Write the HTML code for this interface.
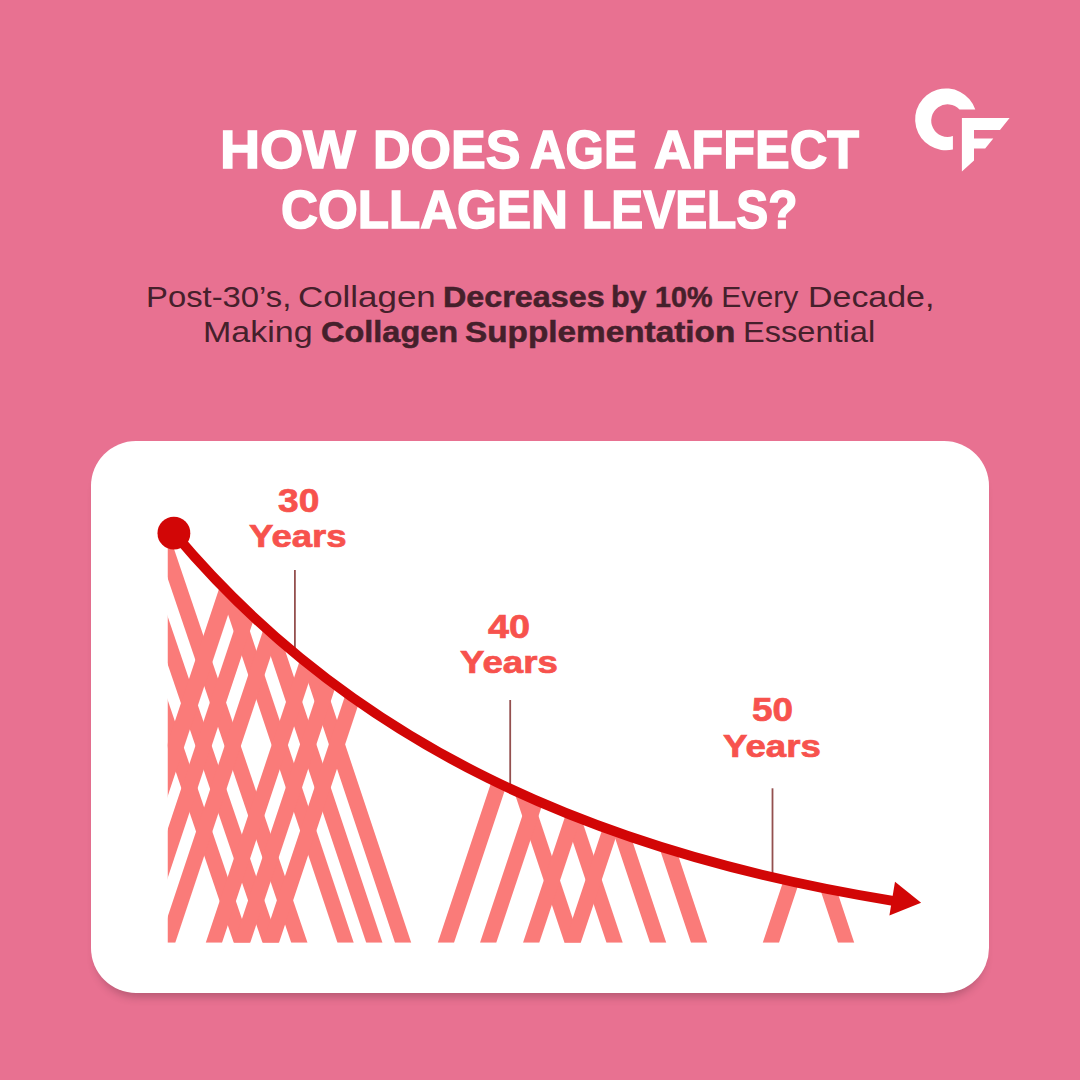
<!DOCTYPE html>
<html lang="en"><head><meta charset="utf-8"><title>How does age affect collagen levels?</title>
<style>
html,body{margin:0;padding:0}
body{width:1080px;height:1080px;background:#e87191;position:relative;overflow:hidden;font-family:"Liberation Sans",sans-serif}
.x{position:absolute;line-height:1;white-space:nowrap;transform-origin:0 0}
.card{position:absolute;left:91px;top:440.5px;width:898px;height:552.5px;background:#fff;border-radius:45px;box-shadow:0 9px 8px -5px rgba(70,35,50,0.30)}
svg{position:absolute;left:0;top:0}
</style></head><body>
<div class="card"></div>
<svg width="1080" height="1080" viewBox="0 0 1080 1080">
<defs><clipPath id="cp"><path d="M174 533 C351.01 744.15 593.67 852.38 893 900.8 L892.00 942.75 L167.75 942.75 L167.75 533.00 Z"/></clipPath></defs>
<!-- logo -->
<g fill="#fff">
<path d="M975.3 109.5 A30.9 30.9 0 1 0 952.9 149.5 L952.9 136 A16.3 16.3 0 1 1 959.5 109.5 Z"/>
<path d="M961.9 118.1 L1009.6 118.1 L1000 130 L974 130 L974 138.4 L993.3 138.4 L985.2 148.5 L974 148.5 L974 160.4 L961.9 171.5 Z"/>
</g>
<g clip-path="url(#cp)" fill="#fa7b79"><path d="M233.75 942.75 L250.00 942.75 L99.91 500.00 L83.66 500.00 Z"/><path d="M262.50 942.75 L278.75 942.75 L127.99 500.00 L111.74 500.00 Z"/><path d="M291.25 942.75 L307.50 942.75 L157.41 500.00 L141.16 500.00 Z"/><path d="M337.50 942.75 L353.75 942.75 L206.18 500.00 L189.93 500.00 Z"/><path d="M366.25 942.75 L382.50 942.75 L234.93 500.00 L218.68 500.00 Z"/><path d="M395.00 942.75 L411.25 942.75 L263.68 500.00 L247.43 500.00 Z"/><path d="M564.50 942.75 L580.75 942.75 L433.18 500.00 L416.93 500.00 Z"/><path d="M606.50 942.75 L622.75 942.75 L475.18 500.00 L458.93 500.00 Z"/><path d="M650.00 942.75 L666.25 942.75 L518.68 500.00 L502.43 500.00 Z"/><path d="M691.00 942.75 L707.25 942.75 L559.68 500.00 L543.43 500.00 Z"/><path d="M838.00 942.75 L854.25 942.75 L706.68 500.00 L690.43 500.00 Z"/><path d="M101.10 942.75 L118.80 942.75 L266.37 500.00 L248.67 500.00 Z"/><path d="M129.80 942.75 L146.05 942.75 L293.62 500.00 L277.37 500.00 Z"/><path d="M159.00 942.75 L175.25 942.75 L322.82 500.00 L306.57 500.00 Z"/><path d="M205.75 942.75 L222.00 942.75 L369.57 500.00 L353.32 500.00 Z"/><path d="M234.00 942.75 L250.25 942.75 L397.82 500.00 L381.57 500.00 Z"/><path d="M262.75 942.75 L279.00 942.75 L426.57 500.00 L410.32 500.00 Z"/><path d="M437.75 942.75 L454.00 942.75 L601.57 500.00 L585.32 500.00 Z"/><path d="M480.00 942.75 L496.25 942.75 L643.82 500.00 L627.57 500.00 Z"/><path d="M523.00 942.75 L539.25 942.75 L686.82 500.00 L670.57 500.00 Z"/><path d="M564.50 942.75 L580.75 942.75 L728.32 500.00 L712.07 500.00 Z"/><path d="M762.75 942.75 L779.00 942.75 L926.57 500.00 L910.32 500.00 Z"/></g>
<g stroke="#94504f" stroke-width="1.8">
<line x1="294.9" y1="570" x2="294.9" y2="648"/>
<line x1="510.2" y1="700" x2="510.2" y2="785"/>
<line x1="772.5" y1="788.3" x2="772.5" y2="875"/>
</g>
<path d="M174 533 C351.01 744.15 593.67 852.38 893 900.8" fill="none" stroke="#d20606" stroke-width="9.8" stroke-linecap="butt"/>
<circle cx="173.9" cy="533.2" r="16.4" fill="#d20606"/>
<path d="M895 881.7 L921.1 902.8 L889.4 915.6 Z" fill="#d20606"/>
</svg>
<span class="x" style="left:220.15px;top:123.75px;font-size:52.9px;font-weight:bold;color:#fff;-webkit-text-stroke:1.5px #fff;transform:scaleX(1.0504)">HOW</span>
<span class="x" style="left:372.75px;top:123.75px;font-size:52.9px;font-weight:bold;color:#fff;-webkit-text-stroke:1.5px #fff;transform:scaleX(0.9834)">DOES</span>
<span class="x" style="left:529.77px;top:123.75px;font-size:52.9px;font-weight:bold;color:#fff;-webkit-text-stroke:1.5px #fff;transform:scaleX(0.9312)">AGE</span>
<span class="x" style="left:654.02px;top:123.75px;font-size:52.9px;font-weight:bold;color:#fff;-webkit-text-stroke:1.5px #fff;transform:scaleX(0.9822)">AFFECT</span>
<span class="x" style="left:280.73px;top:184.25px;font-size:52.9px;font-weight:bold;color:#fff;-webkit-text-stroke:1.5px #fff;transform:scaleX(0.9669)">COLLAGEN</span>
<span class="x" style="left:582.28px;top:184.25px;font-size:52.9px;font-weight:bold;color:#fff;-webkit-text-stroke:1.5px #fff;transform:scaleX(0.9056)">LEVELS?</span>
<span class="x" style="left:146.12px;top:281.7px;font-size:30.1px;font-weight:normal;color:#45202b;transform:scaleX(1.0907)">Post-30’s,</span>
<span class="x" style="left:297.68px;top:281.7px;font-size:30.1px;font-weight:normal;color:#45202b;transform:scaleX(1.1591)">Collagen</span>
<span class="x" style="left:442.82px;top:281.7px;font-size:29.6px;font-weight:bold;color:#45202b;-webkit-text-stroke:0.5px #45202b;transform:scaleX(1.0917)">Decreases</span>
<span class="x" style="left:610.64px;top:281.7px;font-size:29.6px;font-weight:bold;color:#45202b;-webkit-text-stroke:0.5px #45202b;transform:scaleX(1.0303)">by</span>
<span class="x" style="left:655.36px;top:281.7px;font-size:29.6px;font-weight:bold;color:#45202b;-webkit-text-stroke:0.5px #45202b;transform:scaleX(0.9719)">10%</span>
<span class="x" style="left:721.3px;top:281.7px;font-size:30.1px;font-weight:normal;color:#45202b;transform:scaleX(1.0)">Every</span>
<span class="x" style="left:807.74px;top:281.7px;font-size:30.1px;font-weight:normal;color:#45202b;transform:scaleX(1.128)">Decade,</span>
<span class="x" style="left:202.74px;top:316.9px;font-size:30.1px;font-weight:normal;color:#45202b;transform:scaleX(1.129)">Making</span>
<span class="x" style="left:320.6px;top:316.9px;font-size:29.6px;font-weight:bold;color:#45202b;-webkit-text-stroke:0.5px #45202b;transform:scaleX(1.0976)">Collagen</span>
<span class="x" style="left:464.87px;top:316.9px;font-size:29.6px;font-weight:bold;color:#45202b;-webkit-text-stroke:0.5px #45202b;transform:scaleX(1.1261)">Supplementation</span>
<span class="x" style="left:742.84px;top:316.9px;font-size:30.1px;font-weight:normal;color:#45202b;transform:scaleX(1.0822)">Essential</span>
<span class="x" style="left:278.3px;top:483.5px;font-size:33.7px;font-weight:bold;color:#f7524d;-webkit-text-stroke:0.7px #f7524d;transform:scaleX(1.1027)">30</span>
<span class="x" style="left:249.4px;top:519.9px;font-size:32.2px;font-weight:bold;color:#f7524d;-webkit-text-stroke:0.7px #f7524d;transform:scaleX(1.1365)">Years</span>
<span class="x" style="left:487.9px;top:609.5px;font-size:33.7px;font-weight:bold;color:#f7524d;-webkit-text-stroke:0.7px #f7524d;transform:scaleX(1.1216)">40</span>
<span class="x" style="left:459.9px;top:645.9px;font-size:32.2px;font-weight:bold;color:#f7524d;-webkit-text-stroke:0.7px #f7524d;transform:scaleX(1.1388)">Years</span>
<span class="x" style="left:751.51px;top:692.5px;font-size:33.7px;font-weight:bold;color:#f7524d;-webkit-text-stroke:0.7px #f7524d;transform:scaleX(1.0944)">50</span>
<span class="x" style="left:723.3px;top:729.6px;font-size:32.2px;font-weight:bold;color:#f7524d;-webkit-text-stroke:0.7px #f7524d;transform:scaleX(1.1376)">Years</span>
</body></html>
